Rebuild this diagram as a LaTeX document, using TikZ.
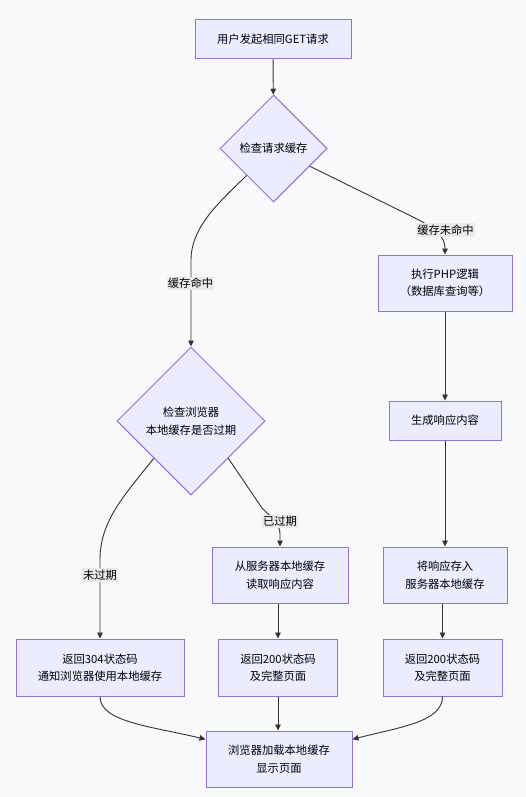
\documentclass[tikz,border=0pt]{standalone}
\usepackage{fontspec}
\setmainfont{Noto Sans CJK SC}
\usetikzlibrary{shapes.geometric,arrows.meta}
\definecolor{pagebg}{HTML}{F8F9FB}
\definecolor{boxfill}{HTML}{ECECFF}
\definecolor{boxline}{HTML}{9370DB}
\definecolor{flowline}{HTML}{333333}
\definecolor{tagfill}{HTML}{EAEAEA}
\begin{document}
\begin{tikzpicture}[x=1pt, y=-1pt,
  font=\fontsize{11.3}{17.5}\selectfont,
  stepbox/.style={draw=boxline, fill=boxfill, line width=1pt, align=center, inner sep=0pt},
  checkbox/.style={diamond, aspect=1, draw=boxline, fill=boxfill, line width=1pt, align=center, inner sep=0pt},
  flow/.style={draw=flowline, line width=0.9pt, -{Triangle[length=6pt,width=5.5pt]}},
  tag/.style={fill=tagfill, inner xsep=1pt, inner ysep=1.5pt}]
  \fill[pagebg] (0,0) rectangle (526,797);

  \node[stepbox, minimum width=156pt, minimum height=39pt] (ask) at (273,39.5) {用户发起相同GET请求};
  \node[checkbox, minimum size=107pt] (reqcache) at (273.5,148.5) {检查请求缓存};
  \node[stepbox, minimum width=134pt, minimum height=56pt] (php) at (445,283) {执行PHP逻辑\\（数据库查询等）};
  \node[checkbox, minimum size=148pt] (browser) at (191,421) {检查浏览器\\本地缓存是否过期};
  \node[stepbox, minimum width=112pt, minimum height=39pt] (gen) at (445,420.5) {生成响应内容};
  \node[stepbox, minimum width=136pt, minimum height=56pt] (readsrv) at (280,575) {从服务器本地缓存\\读取响应内容};
  \node[stepbox, minimum width=124pt, minimum height=56pt] (store) at (445,575) {将响应存入\\服务器本地缓存};
  \node[stepbox, minimum width=168pt, minimum height=57pt] (r304) at (100,667.5) {返回304状态码\\通知浏览器使用本地缓存};
  \node[stepbox, minimum width=119pt, minimum height=57pt] (r200a) at (278,667.5) {返回200状态码\\及完整页面};
  \node[stepbox, minimum width=119pt, minimum height=57pt] (r200b) at (442.5,667.5) {返回200状态码\\及完整页面};
  \node[stepbox, minimum width=146pt, minimum height=56pt] (show) at (279,759) {浏览器加载本地缓存\\显示页面};

  \draw[flow] (ask) -- (reqcache);
  \draw[flow] (reqcache.south west) .. controls (224,198) and (191,225) .. (191,260) -- (browser.north);
  \draw[flow] (reqcache.-26) -- (415,218) .. controls (437,229) and (445,238) .. (445,248) -- (php.north);
  \draw[flow] (php) -- (gen);
  \draw[flow] (gen) -- (store);
  \draw[flow] (store.south -| r200b.north) -- (r200b.north);
  \draw[flow] (browser.south west) .. controls (125,495) and (100,520) .. (100,560) -- (r304.north);
  \draw[flow] (browser.south east) -- (262,508) .. controls (272,518) and (280,524) .. (280,534) -- (readsrv.north);
  \draw[flow] (readsrv.south -| r200a.north) -- (r200a.north);
  \draw[flow] (r304.south) .. controls (100,722) and (150,726) .. (show.165);
  \draw[flow] (r200a.south) -- (r200a.south |- show.north);
  \draw[flow] (r200b.south) .. controls (442.5,722) and (400,727) .. (show.15);

  \node[tag] (hit) at (190.5,283.5) {缓存命中};
  \node[tag] (miss) at (445.5,230) {缓存未命中};
  \node[tag] (fresh) at (100,575) {未过期};
  \node[tag] (stale) at (280,521.5) {已过期};
\end{tikzpicture}
\end{document}
